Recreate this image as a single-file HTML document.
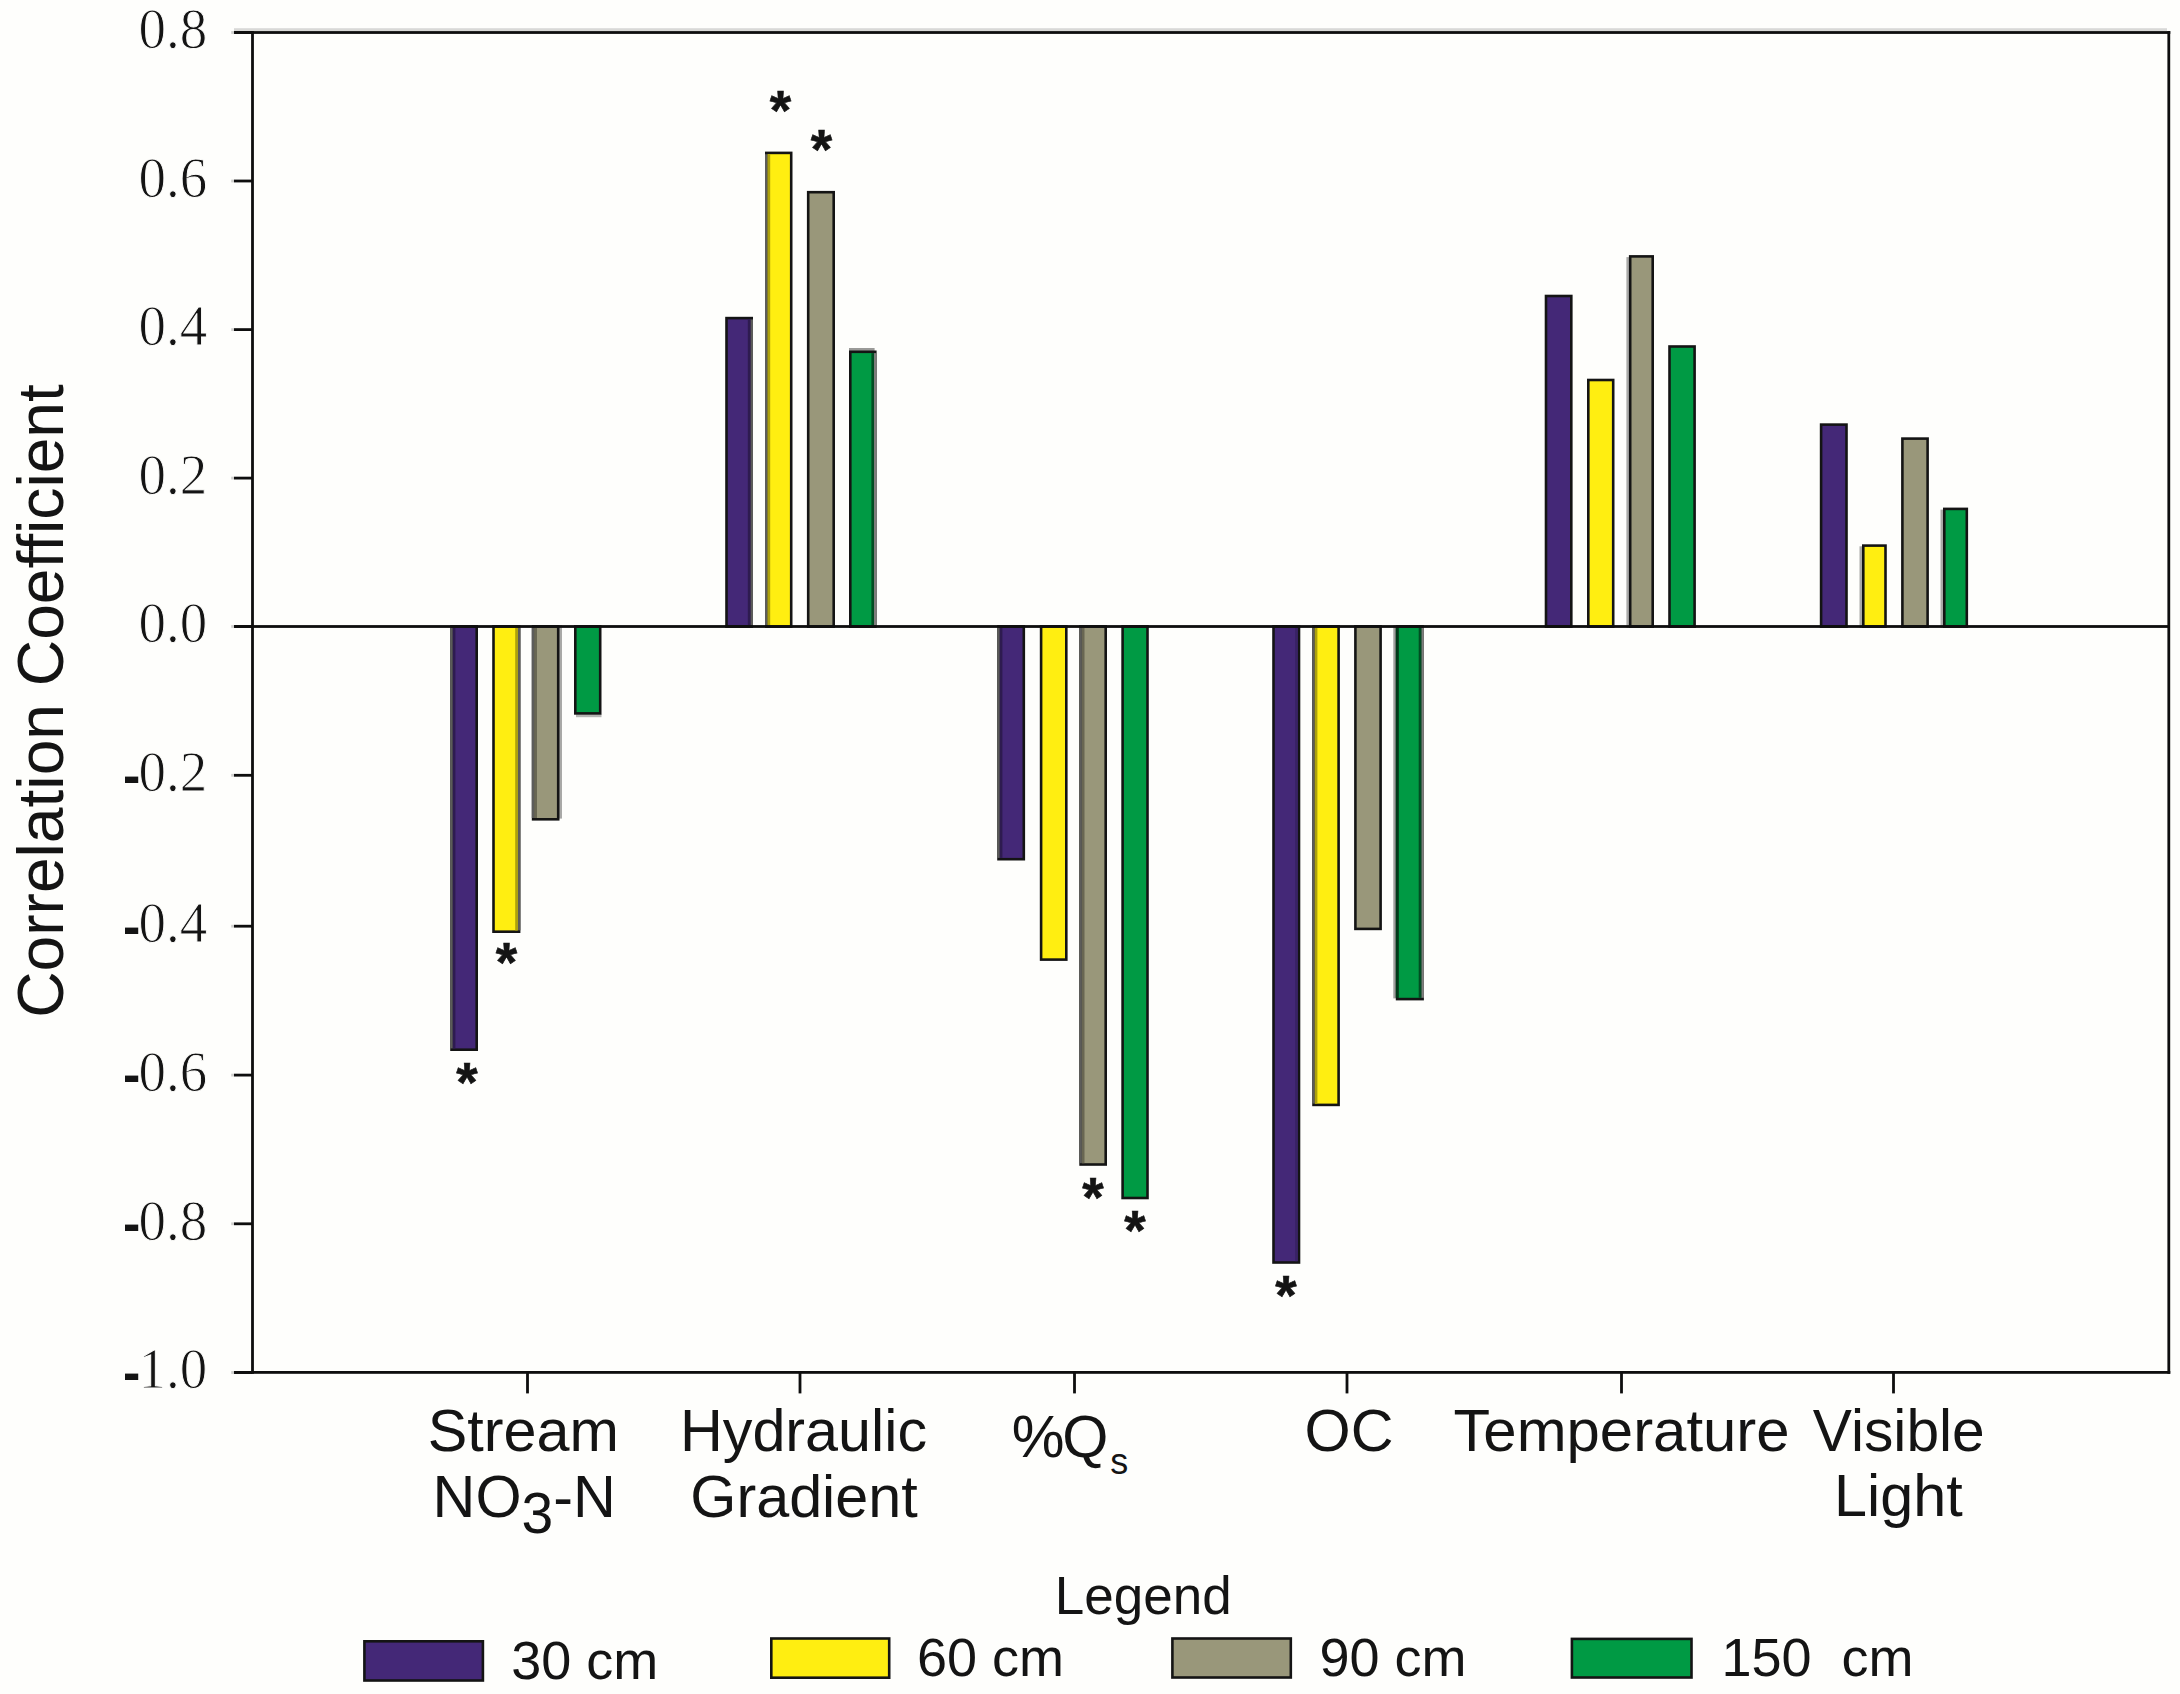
<!DOCTYPE html>
<html lang="en"><head><meta charset="utf-8">
<title>Correlation Coefficient chart</title>
<style>
html,body{margin:0;padding:0;background:#fefefc;}
body{width:2180px;height:1694px;overflow:hidden;}
svg{display:block;}
.sans{font-family:"Liberation Sans",Arial,Helvetica,sans-serif;fill:#141414;}
.serif{font-family:"Liberation Serif","Times New Roman",Times,serif;fill:#141414;}
</style></head><body>
<svg width="2180" height="1694" viewBox="0 0 2180 1694">
<rect x="0" y="0" width="2180" height="1694" fill="#fefefc"/>
<rect x="234" y="28.2" width="1933" height="3" fill="#d9d9d7"/>
<rect x="450.2" y="625.1" width="27.8" height="425.9" fill="#141414"/>
<rect x="452.8" y="627.7" width="22.6" height="420.7" fill="#442877"/>
<rect x="450.2" y="627.7" width="2.6" height="420.7" fill="#5c5c5a"/>
<rect x="452.8" y="627.7" width="2.6" height="420.7" fill="#2e1b50"/>
<rect x="492.2" y="625.1" width="28.2" height="307.9" fill="#141414"/>
<rect x="494.8" y="627.7" width="23.0" height="302.7" fill="#ffee11"/>
<rect x="517.8" y="627.7" width="2.6" height="302.7" fill="#5c5c5a"/>
<rect x="515.2" y="627.7" width="2.6" height="302.7" fill="#ada10b"/>
<rect x="559.0" y="625.1" width="3.0" height="193.5" fill="#a9a9a7"/>
<rect x="531.8" y="625.1" width="27.7" height="195.5" fill="#141414"/>
<rect x="534.4" y="627.7" width="22.5" height="190.3" fill="#99977a"/>
<rect x="531.8" y="627.7" width="2.6" height="190.3" fill="#5c5c5a"/>
<rect x="534.4" y="627.7" width="2.6" height="190.3" fill="#686652"/>
<rect x="576.0" y="714.2" width="25.5" height="3.0" fill="#b5b5b3"/>
<rect x="574.0" y="625.1" width="27.5" height="89.6" fill="#141414"/>
<rect x="576.6" y="627.7" width="22.3" height="84.4" fill="#009a44"/>
<rect x="725.2" y="316.8" width="27.8" height="311.1" fill="#141414"/>
<rect x="727.8" y="319.4" width="22.6" height="305.9" fill="#442877"/>
<rect x="750.4" y="319.4" width="2.6" height="305.9" fill="#5c5c5a"/>
<rect x="747.8" y="319.4" width="2.6" height="305.9" fill="#2e1b50"/>
<rect x="765.0" y="151.6" width="27.5" height="476.3" fill="#141414"/>
<rect x="767.6" y="154.2" width="22.3" height="471.1" fill="#ffee11"/>
<rect x="765.0" y="154.2" width="2.6" height="471.1" fill="#5c5c5a"/>
<rect x="767.6" y="154.2" width="2.6" height="471.1" fill="#ada10b"/>
<rect x="806.9" y="190.9" width="28.1" height="437.0" fill="#141414"/>
<rect x="809.5" y="193.5" width="22.9" height="431.8" fill="#99977a"/>
<rect x="849.0" y="348.0" width="25.6" height="3.0" fill="#9a9a98"/>
<rect x="849.0" y="350.5" width="27.6" height="277.4" fill="#141414"/>
<rect x="851.6" y="353.1" width="22.4" height="272.2" fill="#009a44"/>
<rect x="874.0" y="353.1" width="2.6" height="272.2" fill="#7d7d7b"/>
<rect x="871.4" y="353.1" width="2.6" height="272.2" fill="#004d22"/>
<rect x="997.2" y="625.1" width="27.9" height="235.4" fill="#141414"/>
<rect x="999.8" y="627.7" width="22.7" height="230.2" fill="#442877"/>
<rect x="997.2" y="627.7" width="2.6" height="230.2" fill="#5c5c5a"/>
<rect x="999.8" y="627.7" width="2.6" height="230.2" fill="#2e1b50"/>
<rect x="1039.8" y="625.1" width="27.8" height="335.8" fill="#141414"/>
<rect x="1042.4" y="627.7" width="22.6" height="330.6" fill="#ffee11"/>
<rect x="1079.3" y="625.1" width="27.7" height="540.7" fill="#141414"/>
<rect x="1081.9" y="627.7" width="22.5" height="535.5" fill="#99977a"/>
<rect x="1079.3" y="627.7" width="2.6" height="535.5" fill="#5c5c5a"/>
<rect x="1081.9" y="627.7" width="2.6" height="535.5" fill="#686652"/>
<rect x="1121.3" y="625.1" width="27.5" height="574.2" fill="#141414"/>
<rect x="1123.9" y="627.7" width="22.3" height="569.0" fill="#009a44"/>
<rect x="1272.2" y="625.1" width="28.1" height="638.7" fill="#141414"/>
<rect x="1274.8" y="627.7" width="22.9" height="633.5" fill="#442877"/>
<rect x="1295.1" y="627.7" width="2.6" height="633.5" fill="#392265"/>
<rect x="1312.2" y="625.1" width="27.7" height="481.1" fill="#141414"/>
<rect x="1314.8" y="627.7" width="22.5" height="475.9" fill="#ffee11"/>
<rect x="1312.2" y="627.7" width="2.6" height="475.9" fill="#5c5c5a"/>
<rect x="1314.8" y="627.7" width="2.6" height="475.9" fill="#ada10b"/>
<rect x="1354.1" y="625.1" width="27.8" height="305.1" fill="#141414"/>
<rect x="1356.7" y="627.7" width="22.6" height="299.9" fill="#99977a"/>
<rect x="1393.3" y="625.1" width="3.0" height="373.3" fill="#a0a09e"/>
<rect x="1395.8" y="625.1" width="28.1" height="375.3" fill="#141414"/>
<rect x="1398.4" y="627.7" width="22.9" height="370.1" fill="#009a44"/>
<rect x="1421.3" y="627.7" width="2.6" height="370.1" fill="#7d7d7b"/>
<rect x="1418.7" y="627.7" width="2.6" height="370.1" fill="#004d22"/>
<rect x="1395.8" y="627.7" width="2.8" height="370.1" fill="#003a19"/>
<rect x="1544.7" y="294.7" width="27.9" height="333.2" fill="#141414"/>
<rect x="1547.3" y="297.3" width="22.7" height="328.0" fill="#442877"/>
<rect x="1587.0" y="378.7" width="27.5" height="249.2" fill="#141414"/>
<rect x="1589.6" y="381.3" width="22.3" height="244.0" fill="#ffee11"/>
<rect x="1626.4" y="257.1" width="3.0" height="370.8" fill="#a9a9a7"/>
<rect x="1628.9" y="255.1" width="25.1" height="372.8" fill="#141414"/>
<rect x="1631.5" y="257.7" width="19.9" height="367.6" fill="#99977a"/>
<rect x="1668.2" y="345.2" width="27.7" height="282.7" fill="#141414"/>
<rect x="1670.8" y="347.8" width="22.5" height="277.5" fill="#009a44"/>
<rect x="1819.8" y="423.3" width="28.0" height="204.6" fill="#141414"/>
<rect x="1822.4" y="425.9" width="22.8" height="199.4" fill="#442877"/>
<rect x="1859.5" y="546.3" width="3.0" height="81.6" fill="#a9a9a7"/>
<rect x="1862.0" y="544.3" width="24.8" height="83.6" fill="#141414"/>
<rect x="1864.6" y="546.9" width="19.6" height="78.4" fill="#ffee11"/>
<rect x="1901.1" y="437.3" width="27.8" height="190.6" fill="#141414"/>
<rect x="1903.7" y="439.9" width="22.6" height="185.4" fill="#99977a"/>
<rect x="1940.5" y="509.6" width="3.0" height="118.3" fill="#a9a9a7"/>
<rect x="1943.0" y="507.6" width="25.1" height="120.3" fill="#141414"/>
<rect x="1945.6" y="510.2" width="19.9" height="115.1" fill="#009a44"/>
<g fill="#0e0e0e">
<rect x="234" y="31.1" width="1936.3" height="2.8"/>
<rect x="234" y="1371" width="1936.3" height="2.8"/>
<rect x="251.1" y="31.1" width="2.8" height="1342.7"/>
<rect x="2167.4" y="31.1" width="2.8" height="1342.7"/>
<rect x="234" y="625.1" width="1936" height="2.8"/>
<rect x="231.2" y="31.1" width="3" height="2.8" fill="#cfcfcd"/>
<rect x="234" y="31.1" width="18" height="2.8"/>
<rect x="231.2" y="179.6" width="3" height="2.8" fill="#cfcfcd"/>
<rect x="234" y="179.6" width="18" height="2.8"/>
<rect x="231.2" y="328.2" width="3" height="2.8" fill="#cfcfcd"/>
<rect x="234" y="328.2" width="18" height="2.8"/>
<rect x="231.2" y="476.7" width="3" height="2.8" fill="#cfcfcd"/>
<rect x="234" y="476.7" width="18" height="2.8"/>
<rect x="231.2" y="625.1" width="3" height="2.8" fill="#cfcfcd"/>
<rect x="234" y="625.1" width="18" height="2.8"/>
<rect x="231.2" y="773.9" width="3" height="2.8" fill="#cfcfcd"/>
<rect x="234" y="773.9" width="18" height="2.8"/>
<rect x="231.2" y="924.8" width="3" height="2.8" fill="#cfcfcd"/>
<rect x="234" y="924.8" width="18" height="2.8"/>
<rect x="231.2" y="1073.7" width="3" height="2.8" fill="#cfcfcd"/>
<rect x="234" y="1073.7" width="18" height="2.8"/>
<rect x="231.2" y="1222.4" width="3" height="2.8" fill="#cfcfcd"/>
<rect x="234" y="1222.4" width="18" height="2.8"/>
<rect x="231.2" y="1371.1" width="3" height="2.8" fill="#cfcfcd"/>
<rect x="234" y="1371.1" width="18" height="2.8"/>
<rect x="526.1" y="1372" width="2.8" height="21.4"/>
<rect x="798.6" y="1372" width="2.8" height="21.4"/>
<rect x="1073.1" y="1372" width="2.8" height="21.4"/>
<rect x="1345.6" y="1372" width="2.8" height="21.4"/>
<rect x="1620.1" y="1372" width="2.8" height="21.4"/>
<rect x="1892.1" y="1372" width="2.8" height="21.4"/>
</g>
<text class="serif" transform="translate(207.3,48.3) scale(1,1.035)" font-size="55" text-anchor="end" stroke="#fefefc" stroke-width="0.9">0.8</text>
<text class="serif" transform="translate(207.3,196.8) scale(1,1.035)" font-size="55" text-anchor="end" stroke="#fefefc" stroke-width="0.9">0.6</text>
<text class="serif" transform="translate(207.3,345.4) scale(1,1.035)" font-size="55" text-anchor="end" stroke="#fefefc" stroke-width="0.9">0.4</text>
<text class="serif" transform="translate(207.3,493.9) scale(1,1.035)" font-size="55" text-anchor="end" stroke="#fefefc" stroke-width="0.9">0.2</text>
<text class="serif" transform="translate(207.3,642.3) scale(1,1.035)" font-size="55" text-anchor="end" stroke="#fefefc" stroke-width="0.9">0.0</text>
<text class="serif" transform="translate(207.3,791.1) scale(1,1.035)" font-size="55" text-anchor="end" stroke="#fefefc" stroke-width="0.9"><tspan class="sans" font-size="52" font-weight="bold" stroke="none" dy="2.5">-</tspan><tspan dx="-1.8" dy="-2.5">0.2</tspan></text>
<text class="serif" transform="translate(207.3,942.0) scale(1,1.035)" font-size="55" text-anchor="end" stroke="#fefefc" stroke-width="0.9"><tspan class="sans" font-size="52" font-weight="bold" stroke="none" dy="2.5">-</tspan><tspan dx="-1.8" dy="-2.5">0.4</tspan></text>
<text class="serif" transform="translate(207.3,1090.9) scale(1,1.035)" font-size="55" text-anchor="end" stroke="#fefefc" stroke-width="0.9"><tspan class="sans" font-size="52" font-weight="bold" stroke="none" dy="2.5">-</tspan><tspan dx="-1.8" dy="-2.5">0.6</tspan></text>
<text class="serif" transform="translate(207.3,1239.6) scale(1,1.035)" font-size="55" text-anchor="end" stroke="#fefefc" stroke-width="0.9"><tspan class="sans" font-size="52" font-weight="bold" stroke="none" dy="2.5">-</tspan><tspan dx="-1.8" dy="-2.5">0.8</tspan></text>
<text class="serif" transform="translate(207.3,1388.3) scale(1,1.035)" font-size="55" text-anchor="end" stroke="#fefefc" stroke-width="0.9"><tspan class="sans" font-size="52" font-weight="bold" stroke="none" dy="2.5">-</tspan><tspan dx="-1.8" dy="-2.5">1.0</tspan></text>
<text class="sans" font-size="65" text-anchor="middle" transform="translate(62.5,701) rotate(-90) scale(0.9875,1)">Correlation Coefficient</text>
<text class="sans" x="506.4" y="981.2" font-size="55" font-weight="bold" stroke="#141414" stroke-width="0.6" text-anchor="middle">*</text>
<text class="sans" x="467.0" y="1101.3" font-size="55" font-weight="bold" stroke="#141414" stroke-width="0.6" text-anchor="middle">*</text>
<text class="sans" x="780.5" y="129.0" font-size="55" font-weight="bold" stroke="#141414" stroke-width="0.6" text-anchor="middle">*</text>
<text class="sans" x="821.5" y="168.3" font-size="55" font-weight="bold" stroke="#141414" stroke-width="0.6" text-anchor="middle">*</text>
<text class="sans" x="1093.0" y="1216.4" font-size="55" font-weight="bold" stroke="#141414" stroke-width="0.6" text-anchor="middle">*</text>
<text class="sans" x="1135.0" y="1249.0" font-size="55" font-weight="bold" stroke="#141414" stroke-width="0.6" text-anchor="middle">*</text>
<text class="sans" x="1286.0" y="1313.5" font-size="55" font-weight="bold" stroke="#141414" stroke-width="0.6" text-anchor="middle">*</text>
<g class="sans" font-size="59.3" text-anchor="middle">
<text x="523.3" y="1451">Stream</text>
<text x="524.2" y="1516.6">NO<tspan dy="16" font-size="57">3</tspan><tspan dy="-16">-N</tspan></text>
<text x="803.5" y="1451">Hydraulic</text>
<text x="804" y="1516.6">Gradient</text>
<text x="1070" y="1457">%<tspan dx="-2.2">Q</tspan><tspan dy="17" dx="1.8" font-size="36">s</tspan></text>
<text x="1349" y="1451">OC</text>
<text transform="translate(1621.5,1450.5) scale(1.01,1)">Temperature</text>
<text transform="translate(1898.8,1450.5) scale(0.99,1)">Visible</text>
<text x="1898.4" y="1516">Light</text>
</g>
<text class="sans" x="1143.3" y="1614.4" font-size="53" text-anchor="middle">Legend</text>
<rect x="363.1" y="1640.0" width="121.1" height="41.8" fill="#141414"/>
<rect x="365.7" y="1642.6" width="115.9" height="36.6" fill="#442877"/>
<text class="sans" x="511.3" y="1679.0" font-size="54" xml:space="preserve">30 cm</text>
<rect x="770.0" y="1637.2" width="120.5" height="41.8" fill="#141414"/>
<rect x="772.6" y="1639.8" width="115.3" height="36.6" fill="#ffee11"/>
<text class="sans" x="917.0" y="1676.0" font-size="54" xml:space="preserve">60 cm</text>
<rect x="1171.1" y="1637.2" width="121.0" height="41.6" fill="#141414"/>
<rect x="1173.7" y="1639.8" width="115.8" height="36.4" fill="#99977a"/>
<text class="sans" x="1319.5" y="1676.0" font-size="54" xml:space="preserve">90 cm</text>
<rect x="1570.6" y="1637.6" width="122.2" height="41.2" fill="#141414"/>
<rect x="1573.2" y="1640.2" width="117.0" height="36.0" fill="#009a44"/>
<text class="sans" x="1721.5" y="1676.0" font-size="54" xml:space="preserve">150  cm</text>
</svg></body></html>
